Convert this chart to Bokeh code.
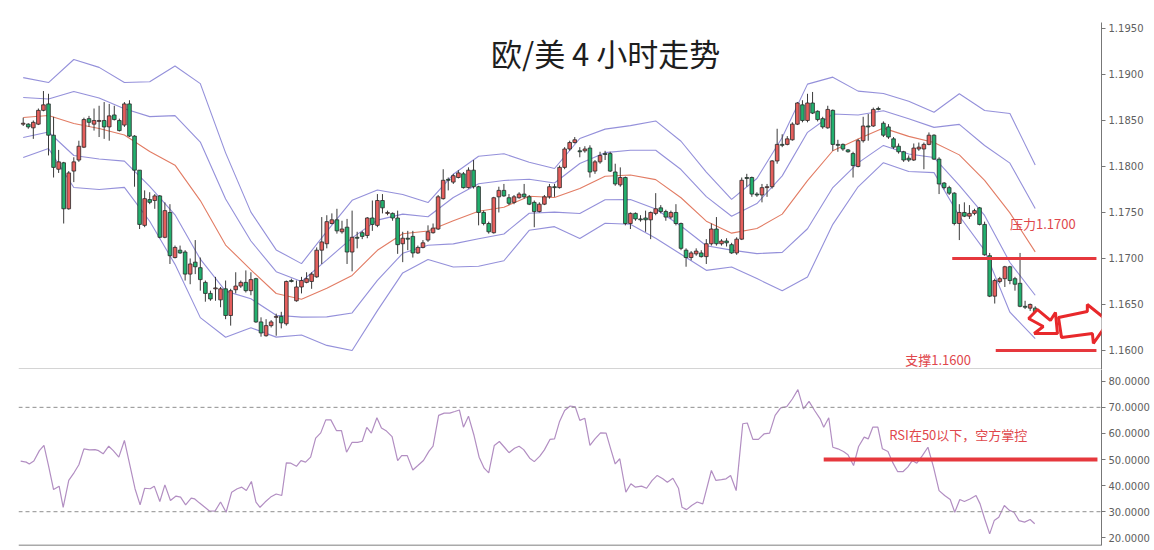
from bokeh.plotting import figure
from bokeh.layouts import column
from bokeh.models import Range1d, FixedTicker, NumeralTickFormatter, Span, Label, PolyAnnotation
from bokeh.embed import file_html
from bokeh.resources import INLINE

# ---------------- data (EUR/USD 4h) ----------------
opens = [1.1846,1.1846,1.1842,1.1846,1.1861,1.1868,1.1834,1.1797,1.1804,1.1754,
 1.1795,1.1807,1.1821,1.1852,1.1846,1.1849,1.1850,1.1843,1.1856,1.1850,
 1.1845,1.1868,1.1833,1.1796,1.1736,1.1764,1.1763,1.1768,1.1723,1.1750,
 1.1701,1.1709,1.1707,1.1683,1.1696,1.1690,1.1674,1.1662,1.1667,1.1655,
 1.1667,1.1638,1.1666,1.1670,1.1674,1.1665,1.1678,1.1631,1.1616,1.1627,
 1.1636,1.1637,1.1629,1.1676,1.1654,1.1669,1.1674,1.1675,1.1680,1.1709,
 1.1716,1.1738,1.1742,1.1729,1.1734,1.1707,1.1723,1.1728,1.1725,1.1744,
 1.1736,1.1763,1.1749,1.1749,1.1744,1.1716,1.1722,1.1724,1.1706,1.1712,
 1.1720,1.1728,1.1732,1.1765,1.1786,1.1783,1.1788,1.1792,1.1777,1.1796,
 1.1778,1.1750,1.1738,1.1728,1.1767,1.1774,1.1766,1.1761,1.1766,1.1770,
 1.1767,1.1761,1.1751,1.1759,1.1767,1.1778,1.1777,1.1799,1.1819,1.1826,
 1.1817,1.1817,1.1820,1.1795,1.1805,1.1814,1.1814,1.1794,1.1780,1.1788,
 1.1738,1.1749,1.1743,1.1744,1.1742,1.1749,1.1755,1.1751,1.1745,1.1750,
 1.1738,1.1709,1.1701,1.1705,1.1706,1.1702,1.1716,1.1732,1.1716,1.1719,
 1.1715,1.1706,1.1721,1.1788,1.1788,1.1770,1.1769,1.1777,1.1778,1.1806,
 1.1824,1.1824,1.1829,1.1846,1.1867,1.1850,1.1869,1.1860,1.1852,1.1842,
 1.1861,1.1824,1.1824,1.1818,1.1814,1.1800,1.1828,1.1844,1.1844,1.1863,
 1.1847,1.1843,1.1830,1.1822,1.1816,1.1809,1.1807,1.1819,1.1819,1.1824,
 1.1834,1.1808,1.1782,1.1777,1.1771,1.1738,1.1750,1.1746,1.1749,1.1755,
 1.1737,1.1703,1.1659,1.1675,1.1678,1.1691,1.1678,1.1673,1.1648,1.1646,
 1.1646]
highs = [1.1853,1.1847,1.1850,1.1863,1.1882,1.1879,1.1854,1.1818,1.1805,1.1795,
 1.1810,1.1828,1.1853,1.1855,1.1863,1.1866,1.1870,1.1868,1.1866,1.1852,
 1.1870,1.1872,1.1834,1.1796,1.1774,1.1772,1.1770,1.1769,1.1761,1.1759,
 1.1714,1.1714,1.1709,1.1700,1.1720,1.1701,1.1676,1.1665,1.1680,1.1669,
 1.1676,1.1667,1.1685,1.1676,1.1687,1.1685,1.1679,1.1636,1.1634,1.1633,
 1.1640,1.1642,1.1676,1.1678,1.1676,1.1680,1.1685,1.1685,1.1712,1.1745,
 1.1747,1.1749,1.1754,1.1741,1.1743,1.1752,1.1729,1.1730,1.1745,1.1763,
 1.1770,1.1770,1.1752,1.1750,1.1752,1.1729,1.1730,1.1730,1.1714,1.1720,
 1.1736,1.1738,1.1769,1.1797,1.1788,1.1792,1.1796,1.1794,1.1799,1.1807,
 1.1779,1.1752,1.1740,1.1767,1.1778,1.1781,1.1770,1.1769,1.1772,1.1781,
 1.1769,1.1763,1.1761,1.1769,1.1781,1.1781,1.1801,1.1821,1.1828,1.1832,
 1.1821,1.1822,1.1823,1.1807,1.1816,1.1817,1.1816,1.1803,1.1799,1.1789,
 1.1750,1.1750,1.1747,1.1752,1.1751,1.1771,1.1758,1.1753,1.1752,1.1759,
 1.1739,1.1711,1.1708,1.1711,1.1709,1.1721,1.1738,1.1745,1.1721,1.1722,
 1.1717,1.1723,1.1788,1.1792,1.1789,1.1772,1.1781,1.1781,1.1807,1.1841,
 1.1835,1.1833,1.1848,1.1870,1.1872,1.1879,1.1881,1.1861,1.1854,1.1866,
 1.1862,1.1829,1.1825,1.1819,1.1816,1.1830,1.1854,1.1857,1.1864,1.1865,
 1.1849,1.1846,1.1832,1.1825,1.1817,1.1812,1.1825,1.1826,1.1826,1.1837,
 1.1835,1.1810,1.1783,1.1779,1.1772,1.1759,1.1761,1.1758,1.1754,1.1756,
 1.1740,1.1706,1.1678,1.1680,1.1692,1.1692,1.1680,1.1706,1.1654,1.1651,
 1.1648]
lows = [1.1844,1.1841,1.1830,1.1845,1.1860,1.1812,1.1788,1.1793,1.1738,1.1753,
 1.1783,1.1805,1.1820,1.1843,1.1839,1.1832,1.1830,1.1828,1.1850,1.1838,
 1.1843,1.1832,1.1778,1.1732,1.1734,1.1759,1.1754,1.1722,1.1722,1.1694,
 1.1700,1.1705,1.1676,1.1672,1.1683,1.1665,1.1653,1.1654,1.1654,1.1647,
 1.1634,1.1627,1.1662,1.1668,1.1663,1.1660,1.1630,1.1615,1.1615,1.1625,
 1.1616,1.1624,1.1627,1.1674,1.1653,1.1662,1.1673,1.1667,1.1679,1.1694,
 1.1711,1.1737,1.1727,1.1727,1.1694,1.1686,1.1711,1.1721,1.1722,1.1730,
 1.1734,1.1749,1.1747,1.1741,1.1705,1.1696,1.1709,1.1701,1.1705,1.1711,
 1.1718,1.1727,1.1731,1.1764,1.1774,1.1781,1.1787,1.1776,1.1776,1.1776,
 1.1736,1.1736,1.1727,1.1727,1.1750,1.1767,1.1758,1.1759,1.1765,1.1765,
 1.1758,1.1734,1.1750,1.1758,1.1765,1.1767,1.1776,1.1797,1.1817,1.1825,
 1.1810,1.1815,1.1788,1.1792,1.1803,1.1807,1.1794,1.1779,1.1778,1.1736,
 1.1732,1.1741,1.1740,1.1729,1.1721,1.1747,1.1749,1.1741,1.1743,1.1736,
 1.1709,1.1691,1.1698,1.1703,1.1701,1.1694,1.1714,1.1714,1.1714,1.1713,
 1.1705,1.1704,1.1720,1.1778,1.1767,1.1767,1.1761,1.1767,1.1776,1.1803,
 1.1821,1.1823,1.1828,1.1845,1.1848,1.1848,1.1857,1.1849,1.1841,1.1841,
 1.1817,1.1816,1.1817,1.1815,1.1788,1.1799,1.1826,1.1828,1.1843,1.1861,
 1.1832,1.1830,1.1819,1.1814,1.1805,1.1805,1.1806,1.1817,1.1797,1.1823,
 1.1807,1.1770,1.1775,1.1769,1.1736,1.1720,1.1745,1.1743,1.1747,1.1736,
 1.1703,1.1658,1.1651,1.1673,1.1669,1.1672,1.1665,1.1647,1.1645,1.1643,
 1.1640]
closes = [1.1847,1.1843,1.1848,1.1861,1.1867,1.1834,1.1799,1.1805,1.1754,1.1793,
 1.1805,1.1822,1.1851,1.1848,1.1850,1.1850,1.1843,1.1855,1.1851,1.1839,
 1.1868,1.1833,1.1796,1.1737,1.1765,1.1761,1.1768,1.1723,1.1752,1.1703,
 1.1712,1.1706,1.1683,1.1694,1.1691,1.1677,1.1662,1.1656,1.1668,1.1667,
 1.1638,1.1665,1.1670,1.1674,1.1665,1.1677,1.1631,1.1619,1.1627,1.1631,
 1.1637,1.1630,1.1675,1.1675,1.1669,1.1676,1.1678,1.1683,1.1709,1.1718,
 1.1740,1.1742,1.1730,1.1732,1.1707,1.1723,1.1722,1.1724,1.1744,1.1737,
 1.1763,1.1755,1.1750,1.1744,1.1715,1.1722,1.1721,1.1706,1.1712,1.1717,
 1.1729,1.1733,1.1767,1.1785,1.1785,1.1790,1.1793,1.1777,1.1796,1.1778,
 1.1750,1.1738,1.1729,1.1766,1.1774,1.1768,1.1760,1.1767,1.1770,1.1767,
 1.1759,1.1751,1.1759,1.1767,1.1778,1.1777,1.1799,1.1819,1.1826,1.1829,
 1.1816,1.1819,1.1794,1.1805,1.1812,1.1813,1.1795,1.1781,1.1788,1.1738,
 1.1749,1.1743,1.1742,1.1742,1.1750,1.1754,1.1751,1.1745,1.1750,1.1738,
 1.1711,1.1701,1.1706,1.1708,1.1702,1.1716,1.1732,1.1716,1.1719,1.1717,
 1.1706,1.1721,1.1785,1.1787,1.1770,1.1769,1.1777,1.1778,1.1806,1.1824,
 1.1823,1.1830,1.1846,1.1869,1.1850,1.1869,1.1858,1.1851,1.1843,1.1862,
 1.1824,1.1823,1.1819,1.1816,1.1801,1.1828,1.1844,1.1843,1.1862,1.1862,
 1.1834,1.1832,1.1821,1.1816,1.1807,1.1807,1.1820,1.1821,1.1824,1.1834,
 1.1808,1.1781,1.1777,1.1771,1.1738,1.1750,1.1746,1.1749,1.1752,1.1737,
 1.1704,1.1659,1.1676,1.1678,1.1691,1.1676,1.1672,1.1648,1.1647,1.1650,
 1.1642]
candle_idx = list(range(len(closes)))

# Bollinger bands (20, 1 and 2 sd), read every 5 candles
band_idx = list(range(0, 201, 5))
bb_upper2 = [1.18966,1.18912,1.19163,1.19077,1.18913,1.18921,1.19092,1.18901,1.18148,1.17504,
 1.17093,1.16944,1.17295,1.17632,1.17745,1.17695,1.17608,1.17915,1.18111,1.18139,
 1.18046,1.17978,1.18304,1.18406,1.18444,1.18495,1.18274,1.17939,1.17643,1.17869,
 1.18314,1.18895,1.18971,1.18819,1.18793,1.18709,1.18589,1.18790,1.18608,1.18576,1.18016]
bb_upper1 = [1.18749,1.18733,1.18815,1.18745,1.18628,1.18542,1.18553,1.18265,1.17647,1.17190,
 1.16856,1.16750,1.16985,1.17224,1.17417,1.17482,1.17453,1.17663,1.17812,1.17848,
 1.17861,1.17820,1.18032,1.18150,1.18176,1.18176,1.17967,1.17672,1.17459,1.17597,
 1.17898,1.18371,1.18571,1.18559,1.18605,1.18518,1.18425,1.18458,1.18228,1.18036,1.17544]
bb_mid = [1.18532,1.18554,1.18467,1.18413,1.18343,1.18163,1.18014,1.17629,1.17146,1.16876,
 1.16619,1.16556,1.16675,1.16816,1.17089,1.17269,1.17298,1.17411,1.17513,1.17557,
 1.17676,1.17662,1.17760,1.17894,1.17908,1.17857,1.17660,1.17405,1.17275,1.17325,
 1.17482,1.17847,1.18171,1.18299,1.18417,1.18327,1.18261,1.18126,1.17848,1.17496,1.17072]
bb_lower1 = [1.18315,1.18375,1.18119,1.18081,1.18058,1.17784,1.17475,1.16993,1.16645,1.16562,
 1.16382,1.16362,1.16365,1.16408,1.16761,1.17056,1.17143,1.17159,1.17214,1.17266,
 1.17491,1.17504,1.17488,1.17638,1.17640,1.17538,1.17353,1.17138,1.17091,1.17053,
 1.17066,1.17323,1.17771,1.18039,1.18229,1.18136,1.18097,1.17794,1.17468,1.16956,1.16600]
bb_lower2 = [1.18098,1.18196,1.17771,1.17749,1.17773,1.17405,1.16936,1.16357,1.16144,1.16248,
 1.16145,1.16168,1.16055,1.16000,1.16433,1.16843,1.16988,1.16907,1.16915,1.16975,
 1.17306,1.17346,1.17216,1.17382,1.17372,1.17219,1.17046,1.16871,1.16907,1.16781,
 1.16650,1.16799,1.17371,1.17779,1.18041,1.17945,1.17933,1.17462,1.17088,1.16416,1.16128]

# RSI vertices (candle position, value)
rsi_idx = [-0.5,0.6,1.2,2.1,3.2,4.1,5.0,6.0,7.1,7.9,9.0,10.1,11.0,12.0,13.1,14.2,14.9,15.8,16.9,17.8,
 18.9,20.0,21.1,22.1,23.1,24.0,25.1,25.9,27.0,28.0,29.1,30.2,31.1,32.1,33.2,33.9,34.8,35.9,36.8,37.9,
 39.0,40.1,41.2,42.3,43.2,44.1,45.1,46.0,46.8,47.8,48.9,50.0,51.1,52.0,52.9,54.0,54.9,55.8,56.8,57.8,
 58.8,59.8,60.8,61.9,62.9,63.9,65.0,66.1,67.0,67.9,68.8,69.9,70.8,71.8,72.9,74.0,74.8,75.9,77.0,78.0,
 79.1,80.2,81.0,82.1,83.2,84.3,85.3,86.2,87.0,88.0,89.1,90.1,91.1,92.0,93.1,94.1,95.1,96.0,97.1,98.0,
 98.9,100.1,101.0,102.1,103.0,104.1,105.0,106.0,107.0,108.1,109.1,110.0,111.0,112.0,113.0,114.1,115.2,116.1,117.0,117.9,
 119.1,120.1,121.0,122.2,123.2,124.3,125.3,126.4,127.3,128.4,129.5,130.2,131.1,132.1,133.2,134.3,136.0,136.9,138.0,138.9,
 139.8,140.9,142.2,143.1,144.2,145.3,146.4,147.5,148.6,149.7,150.9,152.0,153.1,154.2,155.3,156.4,157.5,158.2,159.2,160.0,
 161.0,162.1,163.0,164.1,165.1,166.2,167.0,167.9,168.9,169.8,170.9,171.8,172.8,173.9,174.8,175.7,176.6,177.7,178.8,179.9,
 181.0,182.1,183.2,184.1,185.1,186.0,187.1,188.3,189.1,190.0,191.0,191.9,192.8,193.9,194.9,195.8,196.8,197.9,199.0,199.9]
rsi_val = [49.4,49.0,48.3,49.4,53.4,55.4,47.7,38.5,39.8,31.7,42.0,45.1,48.0,54.1,53.7,53.8,53.4,52.2,55.1,53.4,
 50.9,57.3,47.7,38.8,32.6,39.0,38.8,39.8,33.9,40.3,34.3,36.0,35.6,32.6,35.2,34.9,33.4,31.7,30.3,30.2,
 33.7,29.8,37.5,38.8,39.4,38.1,41.6,33.7,31.7,33.7,35.6,36.8,36.2,48.7,48.6,47.4,49.6,49.0,50.9,58.2,
 60.2,65.2,65.2,61.1,61.1,52.8,56.6,56.6,57.0,62.3,60.1,66.0,62.1,60.9,58.8,49.6,51.5,51.5,46.0,47.7,
 49.6,53.2,55.1,66.9,67.8,67.8,68.4,69.0,62.4,66.6,59.2,50.9,46.7,44.9,55.4,56.9,54.7,52.6,54.3,55.1,
 53.8,50.5,49.2,51.3,53.7,57.7,57.9,64.6,68.8,70.5,70.2,65.0,65.8,55.4,57.9,60.2,60.1,54.1,48.3,50.3,
 37.5,40.7,39.4,39.8,39.0,42.0,43.9,42.6,41.3,42.8,39.0,31.7,30.8,32.4,33.7,33.0,45.8,42.0,42.3,42.6,
 43.9,38.1,63.7,64.0,57.7,57.7,59.8,60.1,66.9,69.8,70.3,73.2,76.8,69.4,72.3,68.8,65.6,62.4,66.0,54.7,
 54.1,53.1,51.8,47.7,55.0,58.6,57.9,62.4,62.4,54.1,53.1,49.0,45.4,45.4,47.1,49.6,48.6,51.5,54.7,47.1,
 38.1,36.2,34.7,29.8,34.7,33.9,34.9,36.2,33.0,27.3,21.5,26.6,27.9,32.4,30.5,29.8,26.6,26.0,27.0,25.4]

price_ticks = [1.1600, 1.1650, 1.1700, 1.1750, 1.1800, 1.1850, 1.1900, 1.1950]
rsi_ticks = [20, 30, 40, 50, 60, 70, 80]
resistance_level = 1.1700
support_level = 1.1600
rsi_overbought = 70
rsi_oversold = 30
rsi_mid_level = 50

# ---------------- styles ----------------
UP = "#E55E5C"
DOWN = "#22B06E"
BAND = "#8E8AD8"
MID = "#E27C64"
RSI_C = "#B28EC2"
ANN = "#E6383D"
TXT = "#E0474C"
CJK = "Noto Sans CJK SC"

body_top = [max(o, c) for o, c in zip(opens, closes)]
body_bot = [min(o, c) for o, c in zip(opens, closes)]
body_col = [UP if c >= o else DOWN for o, c in zip(opens, closes)]

X_RANGE = (-0.93, 213.1)

p1 = figure(frame_width=1083, frame_height=347,
            x_range=Range1d(*X_RANGE), y_range=Range1d(1.15793, 1.19565),
            x_axis_location=None, y_axis_location="right",
            toolbar_location=None, output_backend="svg",
            min_border_left=18, min_border_top=22, min_border_bottom=0, min_border_right=2,
            outline_line_color=None, background_fill_color="white", border_fill_color="white")
p1.grid.visible = False

for arr in (bb_upper2, bb_upper1, bb_lower1, bb_lower2):
    p1.line(band_idx, arr, line_color=BAND, line_width=1.1, line_alpha=0.95)
p1.line(band_idx, bb_mid, line_color=MID, line_width=1.1)

p1.segment(x0=candle_idx, y0=lows, x1=candle_idx, y1=highs, line_color="#3a3a3a", line_width=1)
p1.vbar(x=candle_idx, width=0.72, top=body_top, bottom=body_bot,
        fill_color=body_col, line_color="#2a2a2a", line_width=0.8)

# resistance / support
p1.segment(x0=[183.6], y0=[resistance_level], x1=[212.1], y1=[resistance_level], line_color=ANN, line_width=3)
p1.segment(x0=[192.2], y0=[support_level], x1=[212.1], y1=[support_level], line_color=ANN, line_width=3)

# arrows
arrow1_x = [200.45, 203.0, 204.0, 204.4, 199.8, 201.6, 198.7]
arrow1_y = [1.16445, 1.16326, 1.16413, 1.16184, 1.16184, 1.16260, 1.16347]
arrow2_x = [204.6, 210.3, 210.3, 214.5, 211.5, 211.3, 205.2]
arrow2_y = [1.16358, 1.16423, 1.16500, 1.16315, 1.16076, 1.16184, 1.16141]
for ax_, ay_ in ((arrow1_x, arrow1_y), (arrow2_x, arrow2_y)):
    p1.add_layout(PolyAnnotation(xs=ax_, ys=ay_, fill_color="white", fill_alpha=1.0,
                                 line_color="#E8282B", line_alpha=1.0, line_width=3))

p1.add_layout(Label(x=115.1, y=1.19239, text="欧/美 4 小时走势", text_font=CJK,
                    text_font_size="31px", text_color="#1e1e1e",
                    text_align="center", text_baseline="middle"))
p1.add_layout(Label(x=201.5, y=1.17375, text="压力1.1700", text_font=CJK,
                    text_font_size="13px", text_color=TXT,
                    text_align="center", text_baseline="middle"))
p1.add_layout(Label(x=180.8, y=1.15902, text="支撑1.1600", text_font=CJK,
                    text_font_size="13px", text_color=TXT,
                    text_align="center", text_baseline="middle"))
p1.add_layout(Span(location=1.15793, dimension="width", line_color="#555555", line_width=1.5))

p1.yaxis.ticker = FixedTicker(ticks=price_ticks)
p1.yaxis.formatter = NumeralTickFormatter(format="0.0000")

p2 = figure(frame_width=1083, frame_height=176,
            x_range=p1.x_range, y_range=Range1d(17.05, 84.5),
            x_axis_location=None, y_axis_location="right",
            toolbar_location=None, output_backend="svg",
            min_border_left=18, min_border_top=0, min_border_bottom=4, min_border_right=2,
            outline_line_color=None, background_fill_color="white", border_fill_color="white")
p2.grid.visible = False
p2.add_layout(Span(location=rsi_overbought, dimension="width", line_color="#8f8f8f",
                   line_width=1, line_dash="4 3"))
p2.add_layout(Span(location=rsi_oversold, dimension="width", line_color="#8f8f8f",
                   line_width=1, line_dash="4 3"))
p2.line(rsi_idx, rsi_val, line_color=RSI_C, line_width=1.2)
p2.segment(x0=[158.2], y0=[rsi_mid_level], x1=[212.3], y1=[rsi_mid_level], line_color=ANN, line_width=4)
p2.add_layout(Label(x=184.8, y=59.6, text="RSI在50以下，空方掌控", text_font=CJK,
                    text_font_size="13px", text_color=TXT,
                    text_align="center", text_baseline="middle"))
p2.add_layout(Span(location=17.05, dimension="width", line_color="#555555", line_width=1.5))
p2.yaxis.ticker = FixedTicker(ticks=rsi_ticks)
p2.yaxis.formatter = NumeralTickFormatter(format="0.0000")

for p in (p1, p2):
    ax = p.yaxis[0]
    ax.axis_line_color = "#777777"
    ax.major_tick_line_color = "#777777"
    ax.major_tick_out = 4
    ax.major_tick_in = 0
    ax.minor_tick_line_color = None
    ax.major_label_text_font = "DejaVu Sans"
    ax.major_label_text_font_size = "10px"
    ax.major_label_text_color = "#606060"
    ax.major_label_standoff = 3

layout = column(p1, p2, spacing=0)
open("out.html", "w").write(file_html(layout, INLINE))
